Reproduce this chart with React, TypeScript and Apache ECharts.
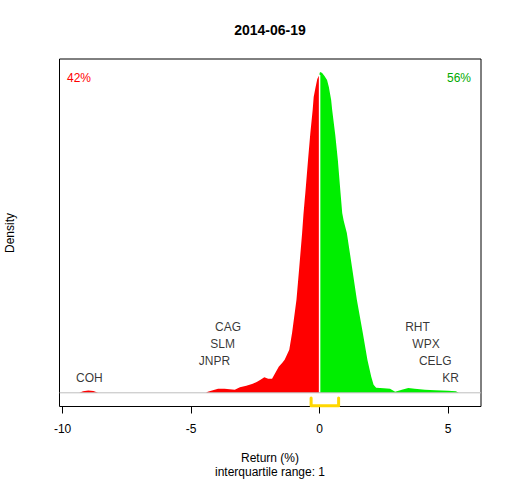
import React, { useEffect, useRef } from "react";
import * as echarts from "echarts";

// Density of returns, negative side (x in %, density)
const redX = [-9.35, -9.2, -9.0, -8.8, -8.62, -4.42, -4.35, -4.15, -3.95, -3.7, -3.5, -3.3, -3.1, -2.85, -2.6, -2.43, -2.3, -2.15, -2.0, -1.85, -1.72, -1.59, -1.45, -1.36, -1.18, -1.07, -0.9, -0.79, -0.68, -0.63, -0.58, -0.555, -0.45, -0.36, -0.27, -0.23, -0.155, -0.09, -0.03, 0];
const redY = [0, 0.003, 0.0044, 0.0036, 0, 0, 0.002, 0.005, 0.008, 0.008, 0.007, 0.006, 0.011, 0.014, 0.018, 0.022, 0.026, 0.031, 0.028, 0.028, 0.04, 0.052, 0.06, 0.066, 0.086, 0.12, 0.186, 0.252, 0.32, 0.356, 0.386, 0.4, 0.466, 0.52, 0.566, 0.592, 0.612, 0.628, 0.634, 0.636];

// Density of returns, positive side
const greenX = [0, 0.03, 0.1, 0.19, 0.29, 0.36, 0.45, 0.49, 0.61, 0.71, 0.815, 0.88, 0.94, 1.06, 1.26, 1.45, 1.68, 1.86, 2.01, 2.1, 2.2, 2.5, 2.74, 2.94, 3.2, 3.45, 3.7, 4.1, 4.5, 5.0, 5.3, 5.42];
const greenY = [0.64, 0.642, 0.64, 0.634, 0.626, 0.612, 0.586, 0.566, 0.516, 0.466, 0.4, 0.36, 0.344, 0.32, 0.252, 0.186, 0.12, 0.066, 0.032, 0.016, 0.01, 0.009, 0.008, 0.002, 0.006, 0.0094, 0.008, 0.006, 0.005, 0.004, 0.003, 0];

// Labelled stocks (bottom to top)
const leftNames = ["COH", "JNPR", "SLM", "CAG"];
const leftReturns = [-8.96, -4.09, -3.77, -3.56];
const rightNames = ["KR", "CELG", "WPX", "RHT"];
const rightReturns = [5.1, 4.5, 4.14, 3.81];

// Quartiles
const quartiles = [-0.33, 0.74];

const xTicks = [-10, -5, 0, 5];
const pctNeg = "42%";
const pctPos = "56%";
const dateTitle = "2014-06-19";
const iqrText = "interquartile range: 1";

const X_MIN = -10.12;
const X_MAX = 6.28;
const Y_MIN = -0.0274;
const Y_MAX = 0.668;

const FONT = "Liberation Sans, Arial, sans-serif";

export default function App() {
  const ref = useRef<HTMLDivElement>(null);
  useEffect(() => {
    if (!ref.current) return;
    const chart = echarts.init(ref.current, undefined, { renderer: "svg" });
    const zip = (xs: number[], ys: number[]) => xs.map((x, i) => [x, ys[i]]);
    const levelY = (i: number) => 0.03 + i * 0.0337;
    const labelData = [
      ...leftNames.map((n, i) => ({ name: n, value: [leftReturns[i], levelY(i)] })),
      ...rightNames.map((n, i) => ({ name: n, value: [rightReturns[i], levelY(i)] })),
    ];
    const peak = redY[redY.length - 1];
    const option: any = {
      animation: false,
      backgroundColor: "#fff",
      grid: {
        left: 59.5,
        right: 31,
        top: 59,
        bottom: 73.5,
        show: true,
        borderColor: "#000",
        borderWidth: 1,
        backgroundColor: "transparent",
      },
      xAxis: {
        type: "value",
        min: X_MIN,
        max: X_MAX,
        axisLine: { show: false, onZero: false },
        splitLine: { show: false },
        axisTick: { show: true, customValues: xTicks, length: 7, lineStyle: { color: "#000" } },
        axisLabel: { customValues: xTicks, fontSize: 12, color: "#000", fontFamily: FONT, margin: 16 },
      },
      yAxis: { type: "value", min: Y_MIN, max: Y_MAX, show: false },
      series: [
        {
          type: "line",
          data: zip(redX, redY),
          symbol: "none",
          lineStyle: { width: 0 },
          areaStyle: { color: "#FF0000", opacity: 1 },
          itemStyle: { color: "#FF0000" },
        },
        {
          type: "line",
          data: zip(greenX, greenY),
          symbol: "none",
          lineStyle: { width: 0 },
          areaStyle: { color: "#00EE00", opacity: 1 },
          itemStyle: { color: "#00EE00" },
        },
        {
          type: "line",
          data: [[0, 0], [0, peak]],
          symbol: "none",
          lineStyle: { color: "#fff", width: 1.5 },
        },
        {
          type: "line",
          data: [[X_MIN, 0], [X_MAX, 0]],
          symbol: "none",
          lineStyle: { color: "#BEBEBE", width: 1 },
        },
        {
          type: "line",
          clip: false,
          data: [
            [quartiles[0], -0.0106],
            [quartiles[0], -0.026],
            [quartiles[1], -0.026],
            [quartiles[1], -0.0106],
          ],
          symbol: "none",
          lineStyle: { color: "#FFD700", width: 3, cap: "round", join: "round" },
        },
        {
          type: "scatter",
          data: labelData,
          symbolSize: 1,
          itemStyle: { color: "rgba(0,0,0,0)" },
          label: {
            show: true,
            position: "inside",
            formatter: (p: any) => p.name,
            color: "#000",
            fontSize: 12,
            fontFamily: FONT,
          },
        },
      ],
      graphic: [
        {
          type: "text",
          x: 270,
          y: 30,
          style: { text: dateTitle, fill: "#000", font: `bold 14px ${FONT}`, align: "center", verticalAlign: "middle" },
        },
        {
          type: "text",
          x: 67,
          y: 78,
          style: { text: pctNeg, fill: "#FF0000", font: `12px ${FONT}`, align: "left", verticalAlign: "middle" },
        },
        {
          type: "text",
          x: 471,
          y: 78,
          style: { text: pctPos, fill: "#00AA00", font: `12px ${FONT}`, align: "right", verticalAlign: "middle" },
        },
        {
          type: "text",
          x: 10,
          y: 233,
          rotation: Math.PI / 2,
          style: { text: "Density", fill: "#000", font: `12px ${FONT}`, align: "center", verticalAlign: "middle" },
        },
        {
          type: "text",
          x: 270,
          y: 457.5,
          style: { text: "Return (%)", fill: "#000", font: `12px ${FONT}`, align: "center", verticalAlign: "middle" },
        },
        {
          type: "text",
          x: 270,
          y: 471.5,
          style: { text: iqrText, fill: "#000", font: `12px ${FONT}`, align: "center", verticalAlign: "middle" },
        },
      ],
    };
    chart.setOption(option);
    return () => chart.dispose();
  }, []);
  return <div ref={ref} style={{ position: "absolute", left: 0, top: 0, width: 512, height: 480 }} />;
}
